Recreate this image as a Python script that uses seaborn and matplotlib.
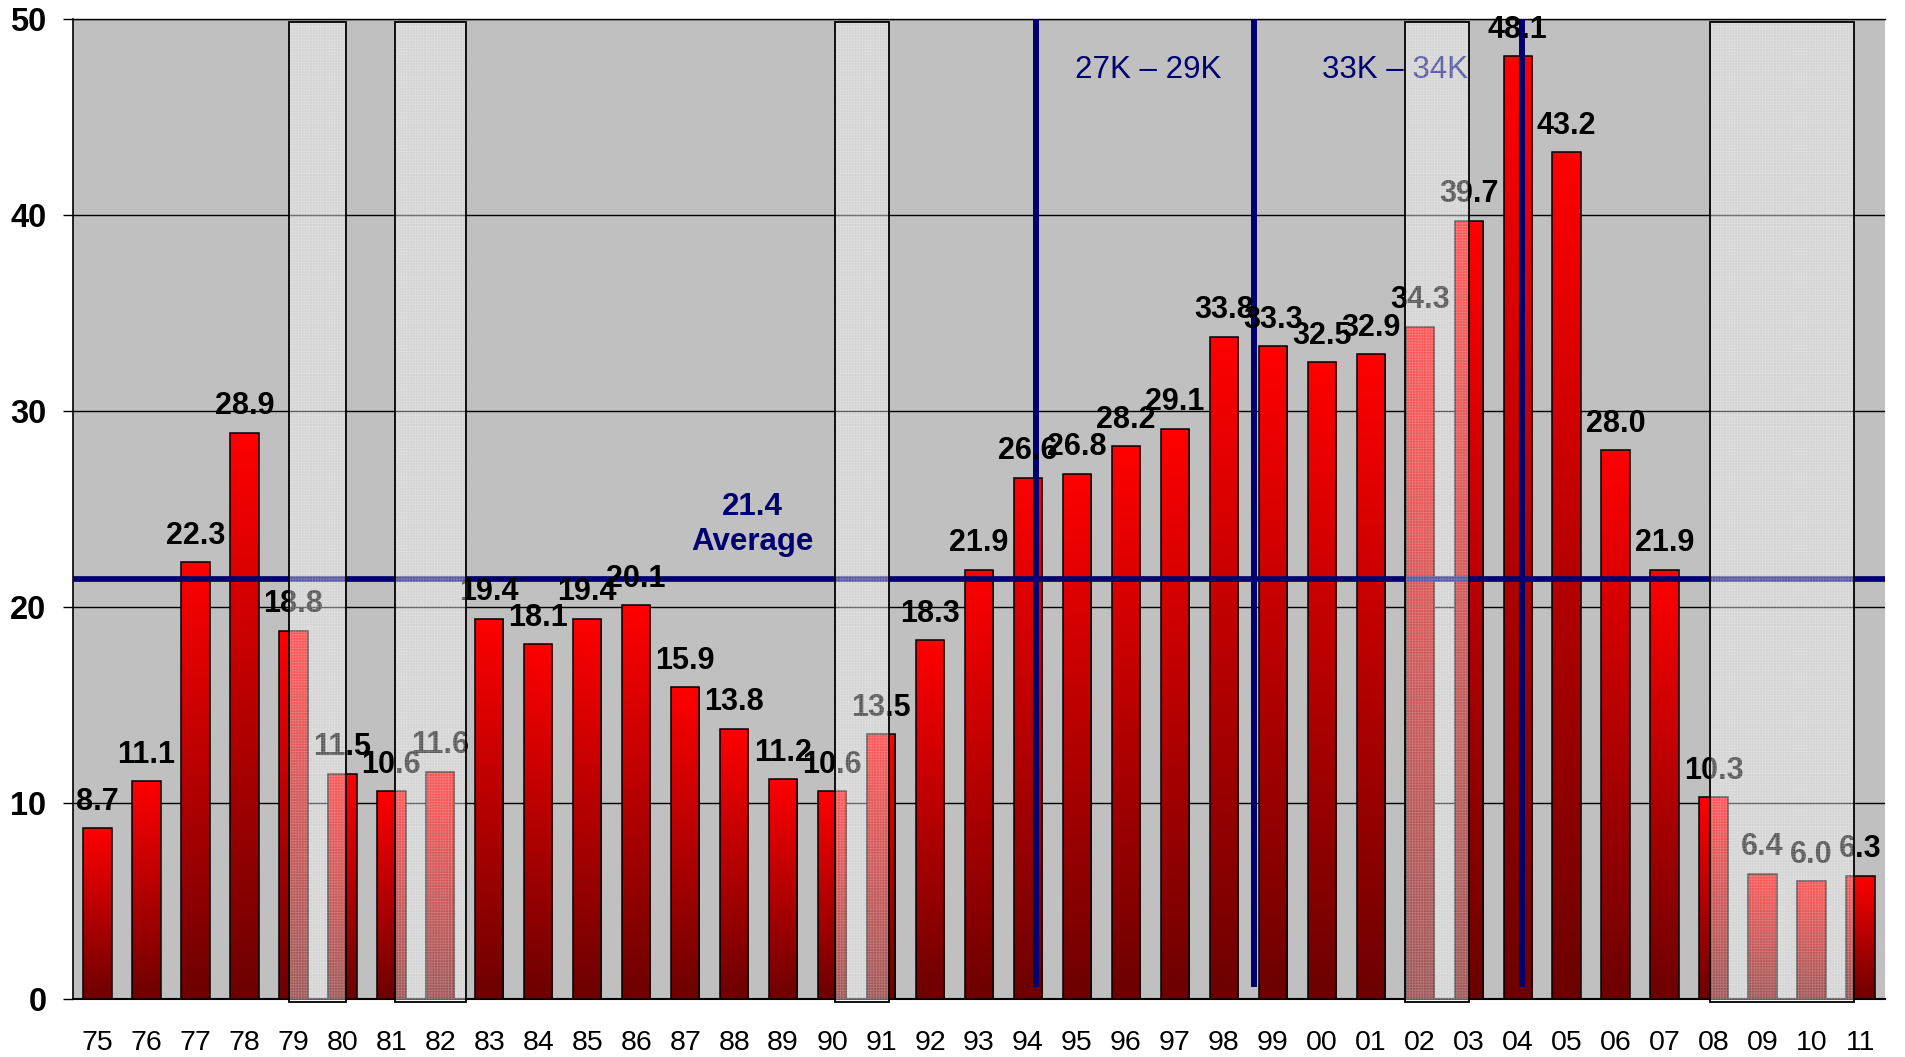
import numpy as np
import pandas as pd
import matplotlib
matplotlib.use("Agg")
import matplotlib.pyplot as plt
from matplotlib.colors import LinearSegmentedColormap
from matplotlib.patches import Rectangle
import seaborn as sns

# Yearly values, 1975-2011
years = ["75", "76", "77", "78", "79", "80", "81", "82", "83", "84",
         "85", "86", "87", "88", "89", "90", "91", "92", "93", "94",
         "95", "96", "97", "98", "99", "00", "01", "02", "03", "04",
         "05", "06", "07", "08", "09", "10", "11"]
values = [8.7, 11.1, 22.3, 28.9, 18.8, 11.5, 10.6, 11.6, 19.4, 18.1,
          19.4, 20.1, 15.9, 13.8, 11.2, 10.6, 13.5, 18.3, 21.9, 26.6,
          26.8, 28.2, 29.1, 33.8, 33.3, 32.5, 32.9, 34.3, 39.7, 48.1,
          43.2, 28.0, 21.9, 10.3, 6.4, 6.0, 6.3]

# Recession periods, in category-position units (start, end)
recessions = [(3.91, 5.07), (6.08, 7.53), (15.06, 16.16),
              (26.70, 28.00), (32.93, 35.87)]

# Vertical reference markers and their range labels
marker_x = [19.17, 23.62, 29.09]
range_labels = ["27K \u2013 29K", "33K \u2013 34K"]
range_label_x = [21.46, 26.49]

NAVY = "#000070"

sns.set_style("white")
plt.rcParams["font.family"] = ["Liberation Sans", "DejaVu Sans"]
plt.rcParams["hatch.linewidth"] = 0.6

W, H = 1906, 1057
fig = plt.figure(figsize=(W / 100, H / 100), dpi=100)
ax = fig.add_axes([73 / W, 1 - 999 / H, (1885 - 73) / W, (999 - 19) / H])
ax.set_facecolor("#C0C0C0")

df = pd.DataFrame({"year": years, "value": values})
sns.barplot(data=df, x="year", y="value", order=years, width=0.58,
            color="red", saturation=1, edgecolor="black", linewidth=1.1,
            ax=ax, zorder=3)

# Vertical red gradient inside each bar (dark at the base, bright at the top)
cmap = LinearSegmentedColormap.from_list("bar_red", ["#6C0000", "#FF0000"])
grad = np.linspace(0, 1, 256).reshape(-1, 1)
for p in list(ax.patches):
    x0, w, h = p.get_x(), p.get_width(), p.get_height()
    p.set_facecolor("none")
    im = ax.imshow(grad, cmap=cmap, origin="lower", aspect="auto",
                   extent=[x0, x0 + w, 0, h], zorder=2.9,
                   interpolation="bilinear")
    im.set_clip_path(p)

ax.set_xlim(-0.5, len(years) - 0.5)
ax.set_ylim(0, 50)

# Grid and spines
ax.set_axisbelow(True)
ax.yaxis.grid(True, color="black", lw=1.0)
ax.xaxis.grid(False)
for side in ["left", "bottom", "top"]:
    ax.spines[side].set_visible(True)
    ax.spines[side].set_color("black")
ax.spines["left"].set_linewidth(1.2)
ax.spines["bottom"].set_linewidth(1.5)
ax.spines["top"].set_linewidth(1.0)
ax.spines["right"].set_visible(False)

# Ticks
ax.set_xticks(range(len(years)))
ax.set_xticklabels(years)
ax.set_xticks(np.arange(-0.5, len(years), 1), minor=True)
ax.tick_params(axis="x", which="major", length=0, pad=22.5, labelsize=20.5,
               labelcolor="black")
ax.tick_params(axis="x", which="minor", direction="inout", length=13.5,
               width=1.0, color="black")
ax.set_yticks(range(0, 51, 10))
ax.tick_params(axis="y", direction="out", length=7, width=1.0, pad=12,
               labelsize=23.5, color="black", labelcolor="black", left=True)
for t in ax.get_yticklabels():
    t.set_fontweight("bold")
ax.set_xlabel("")
ax.set_ylabel("")

# Value labels
for i, v in enumerate(values):
    ax.annotate(f"{v:.1f}", (i, v), xytext=(0, 19),
                textcoords="offset points", ha="center", va="center",
                fontsize=22, fontweight="bold", color="black", zorder=5)

# Average line
avg = float(np.mean(values))
ax.axhline(avg, color=NAVY, lw=4.1, zorder=4)
ax.text(13.37, 24.2, f"{avg:.1f}\nAverage", ha="center", va="center",
        fontsize=22.5, fontweight="bold", color=NAVY, linespacing=1.2,
        zorder=5)

# Vertical markers and range labels
ax.vlines(marker_x, 0.6, 50, color=NAVY, lw=4.3, zorder=4)
for x, s in zip(range_label_x, range_labels):
    ax.text(x, 47.4, s, ha="center", va="center", fontsize=22.5,
            color=NAVY, zorder=5)

# Recession shading boxes: translucent fill, fine texture, black outline
for a, b in recessions:
    ax.add_patch(Rectangle((a, -0.15), b - a, 50.01,
                           facecolor=(1, 1, 1, 0.33), edgecolor="none",
                           zorder=6, clip_on=False))
    ax.add_patch(Rectangle((a, -0.15), b - a, 50.01,
                           facecolor="none", edgecolor=(1, 1, 1, 0.22),
                           hatch="++++++", lw=0, zorder=6.05, clip_on=False))
    ax.add_patch(Rectangle((a, -0.15), b - a, 50.01,
                           facecolor="none", edgecolor="black", lw=1.3,
                           zorder=6.1, clip_on=False))

fig.savefig("out.png", dpi=100, facecolor="white")
